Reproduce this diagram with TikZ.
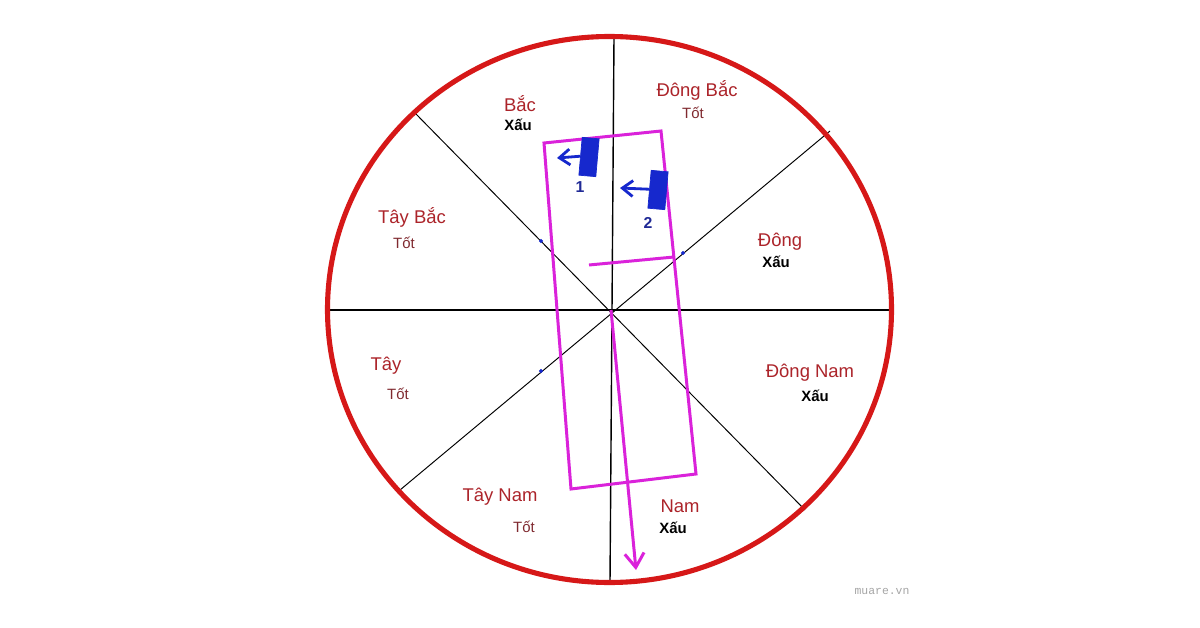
\documentclass[tikz,border=0pt]{standalone}
\usepackage{fontspec}
\setmainfont{Liberation Sans}
\setmonofont{Liberation Mono}
\usetikzlibrary{arrows.meta}
\definecolor{vongdo}{RGB}{214,24,24}
\definecolor{chudo}{RGB}{172,36,42}
\definecolor{chutot}{RGB}{128,42,48}
\definecolor{hong}{RGB}{218,34,218}
\definecolor{xanh}{RGB}{22,40,205}
\definecolor{soxanh}{RGB}{32,42,150}
\tikzset{
  huong/.style={text=chudo, font=\fontsize{10.5}{12}\selectfont, inner sep=0pt},
  tot/.style={text=chutot, font=\fontsize{8.5}{10}\selectfont, inner sep=0pt},
  xau/.style={text=black, font=\fontsize{8.5}{10}\selectfont\bfseries, inner sep=0pt},
  khoi/.style={fill=xanh, draw=xanh, rotate=-5, minimum width=0.34cm, minimum height=0.76cm, inner sep=0pt},
  muiten/.style={-{Straight Barb[length=6pt, width=9pt, line width=1.6pt]}},
  muitenlon/.style={-{Straight Barb[length=8pt, width=11pt, line width=1.7pt]}}
}
\begin{document}
\begin{tikzpicture}[x=0.02cm, y=-0.02cm]
	\useasboundingbox (0,0) rectangle (1200,628);
	\fill[white] (0,0) rectangle (1200,628);
		\coordinate (O) at (611,310);
		\coordinate (N) at (614,37);
		\coordinate (S) at (610,582);
		\coordinate (W) at (325,310);
		\coordinate (E) at (892,310);
		\coordinate (NW) at (415,113);
		\coordinate (SE) at (805,510);
		\coordinate (NE) at (830,131);
		\coordinate (SW) at (400,490);
		\draw[line width=0.8pt] (N) -- (S);
		\draw[line width=0.8pt] (W) -- (E);
		\draw[line width=0.55pt] (NW) -- (SE);
		\draw[line width=0.55pt] (NE) -- (SW);
		\draw[vongdo, line width=2.9pt] (609.5,309.5) ellipse (282 and 273);
		\filldraw[xanh] (541,241) circle (1.6) (683,253) circle (1.6) (541,371) circle (1.6);
		\coordinate (A) at (544,143);
		\coordinate (B) at (661,131);
		\coordinate (C) at (696,474);
		\coordinate (D) at (571,489);
		\draw[hong, line width=1.7pt] (A) -- (B) -- (C) -- (D) -- cycle;
		\coordinate (vachtrai) at (589,265);
		\coordinate (vachphai) at (674,257);
		\draw[hong, line width=1.7pt] (vachtrai) -- (vachphai);
		\coordinate (dinh) at (636,570);
		\draw[hong, line width=1.7pt, muitenlon] (O) -- (dinh);
		\node[khoi] (k1) at (589,157) {};
		\node[khoi] (k2) at (658,190) {};
		\coordinate (t1) at (557,158);
		\coordinate (t2) at (620,188);
		\draw[xanh, line width=1.6pt, muiten] (k1.west) -- (t1);
		\draw[xanh, line width=1.6pt, muiten] (k2.west) -- (t2);
		\node[text=soxanh, font=\fontsize{9}{10}\selectfont\bfseries] (s1) at (580,187) {1};
		\node[text=soxanh, font=\fontsize{9}{10}\selectfont\bfseries] (s2) at (648,223) {2};
		\node[huong] (bac) at (520,104) {Bắc};
		\node[xau] (bacx) at (518,125) {Xấu};
		\node[huong] (dongbac) at (697,90) {Đông Bắc};
		\node[tot] (dongbact) at (693,113) {Tốt};
		\node[huong] (taybac) at (412,217) {Tây Bắc};
		\node[tot] (taybact) at (404,243) {Tốt};
		\node[huong] (dong) at (780,242) {Đông};
		\node[xau] (dongx) at (776,262) {Xấu};
		\node[huong] (tay) at (386,366) {Tây};
		\node[tot] (tayt) at (398,394) {Tốt};
		\node[huong] (dongnam) at (810,373) {Đông Nam};
		\node[xau] (dongnamx) at (815,396) {Xấu};
		\node[huong] (taynam) at (500,497) {Tây Nam};
		\node[tot] (taynamt) at (524,527) {Tốt};
		\node[huong] (nam) at (680,506) {Nam};
		\node[xau] (namx) at (673,528) {Xấu};
		\node[text=black!35, font=\fontsize{6.5}{7}\ttfamily] (web) at (882,591) {muare.vn};
	\end{tikzpicture}
\end{document}
